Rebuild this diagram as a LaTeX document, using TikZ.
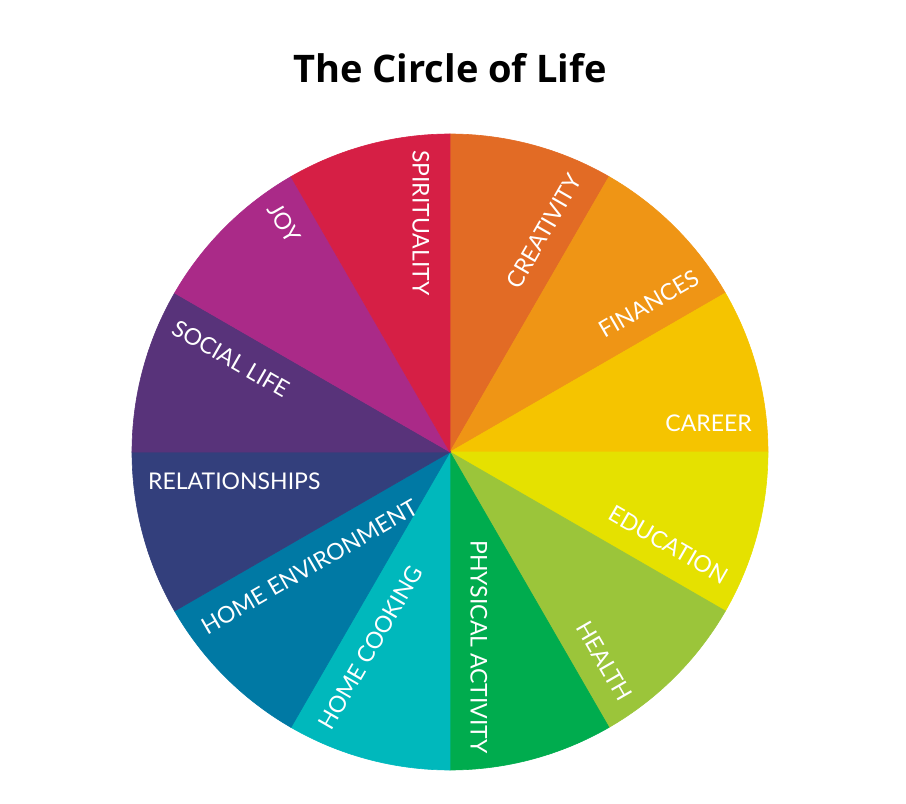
\documentclass[tikz,border=0pt]{standalone}
\usepackage{fontspec}
\newfontfamily\labelfont{Lato}
\newfontfamily\titlefont{Open Sans}

\definecolor{creativity}{HTML}{E26B25}
\definecolor{finances}{HTML}{EF9515}
\definecolor{career}{HTML}{F5C400}
\definecolor{education}{HTML}{E5E100}
\definecolor{health}{HTML}{9BC53A}
\definecolor{physical}{HTML}{00AC4E}
\definecolor{cooking}{HTML}{00B8BC}
\definecolor{homeenv}{HTML}{0079A4}
\definecolor{relationships}{HTML}{333F7C}
\definecolor{sociallife}{HTML}{58337A}
\definecolor{joy}{HTML}{AA2A88}
\definecolor{spirituality}{HTML}{D61F45}

\begin{document}
\begin{tikzpicture}[x=1pt,y=1pt,
    wedgelabel/.style={text=white, font=\labelfont\fontsize{23}{23}\selectfont,
      inner sep=0pt, text height=16.5pt, text depth=0pt}]
    \useasboundingbox (-450,-352) rectangle (456,452);

    % Title
    \node[anchor=base, font=\titlefont\bfseries\fontsize{38}{38}\selectfont]
      (title) at (0,369) {The Circle of Life};

    % Wedges, 30 degrees each
    \foreach \a/\col in {60/creativity, 30/finances, 0/career, -30/education,
        -60/health, -90/physical, -120/cooking, -150/homeenv,
        180/relationships, 150/sociallife, 120/joy, 90/spirituality}
      \fill[\col, draw=\col, line width=0.6pt] (0,0) -- (\a:318)
        arc[start angle=\a, end angle=\a+30, radius=318] -- cycle;

    % Labels on the right half, reading outwards
    \foreach \a/\txt/\nm in {60/CREATIVITY/creat, 30/FINANCES/fin, 0/CAREER/car,
        -30/EDUCATION/edu, -60/HEALTH/hea, -90/PHYSICAL ACTIVITY/phys}
      \node[wedgelabel, anchor=east, rotate=\a] (\nm)
        at ([shift={(\a+90:29)}]\a:302) {\txt};

    % Labels on the left half, reading inwards
    \foreach \a/\txt/\nm in {-120/HOME COOKING/cook, -150/HOME ENVIRONMENT/home,
        180/RELATIONSHIPS/rel, 150/SOCIAL LIFE/soc, 120/JOY/joy, 90/SPIRITUALITY/spir}
      \node[wedgelabel, anchor=west, rotate=\a+180] (\nm)
        at ([shift={(\a+90:29)}]\a:302) {\txt};
\end{tikzpicture}
\end{document}
